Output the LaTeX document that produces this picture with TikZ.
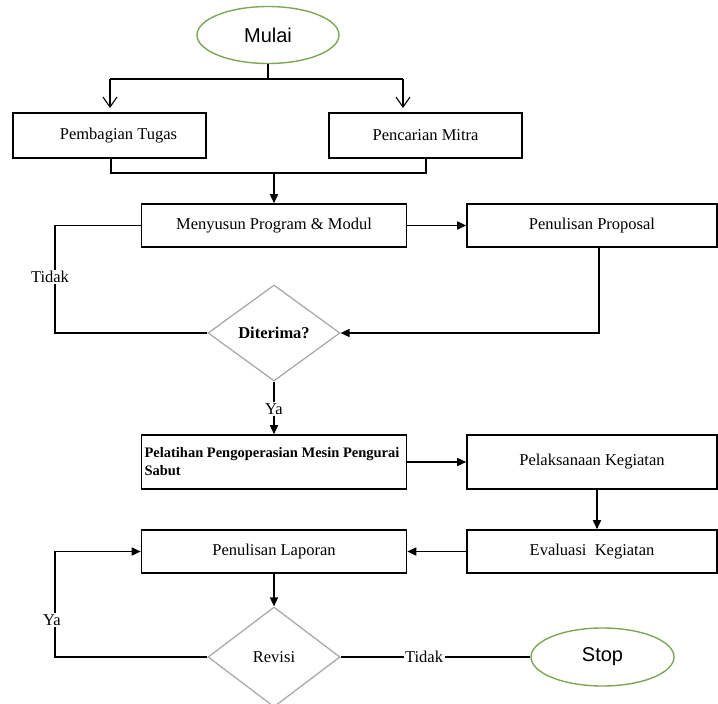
\documentclass[tikz,border=0pt]{standalone}
\usepackage{fontspec}
\setmainfont{Liberation Serif}
\newfontfamily\arialfont{Liberation Sans}
\usetikzlibrary{shapes.geometric,arrows.meta,calc}
\definecolor{termgreen}{HTML}{7FA655}
\definecolor{decgray}{HTML}{A5A5A5}
\tikzset{
  procbox/.style={draw=black, line width=1.6pt, rectangle, inner sep=2pt,
    font=\fontsize{16.5}{19}\selectfont},
  terminal/.style={draw=termgreen, line width=1.4pt, ellipse, inner sep=0pt,
    font=\arialfont\fontsize{20}{24}\selectfont},
  decision/.style={draw=decgray, line width=1.2pt, diamond, inner sep=0pt,
    font=\fontsize{16.5}{19}\selectfont},
  conn/.style={line width=1.6pt, draw=black},
  arr/.style={conn, -{Triangle[length=9pt,width=8pt]}},
  openarr/.style={line width=1.1pt, -{Straight Barb[length=10pt,width=14pt,line width=1.1pt]}},
  lbl/.style={fill=white, inner sep=1.5pt, font=\fontsize{16.5}{19}\selectfont}
}
\begin{document}
\begin{tikzpicture}[x=1pt,y=-1pt]
\useasboundingbox (0,0) rectangle (718,704);

% nodes
\node[terminal, minimum width=142pt, minimum height=57pt] (mulai) at (268,35) {Mulai};
\node[procbox, minimum width=193pt, minimum height=45pt] (pt) at (109.5,135.5) {\hspace*{18pt}Pembagian Tugas};
\node[procbox, minimum width=193pt, minimum height=45pt] (pm) at (425.5,135.5) {Pencarian Mitra};
\node[procbox, minimum width=265pt, minimum height=43pt] (menyusun) at (274,225.5) {Menyusun Program \& Modul};
\node[procbox, minimum width=250pt, minimum height=43pt] (proposal) at (592,225.5) {Penulisan Proposal};
\node[decision, minimum width=132pt, minimum height=96pt] (diterima) at (274,333) {\textbf{Diterima?}};
\node[procbox, minimum width=265pt, minimum height=54pt, text width=259pt, align=flush left,
      font=\bfseries\fontsize{14.5}{18}\selectfont] (pelatihan) at (274,462)
      {Pelatihan Pengoperasian Mesin Pengurai\\Sabut};
\node[procbox, minimum width=250pt, minimum height=54pt] (pelaksanaan) at (592,462) {Pelaksanaan Kegiatan};
\node[procbox, minimum width=250pt, minimum height=43pt] (evaluasi) at (592,551.5) {Evaluasi\ \ Kegiatan};
\node[procbox, minimum width=265pt, minimum height=43pt] (laporan) at (274,551.5) {Penulisan Laporan};
\node[decision, minimum width=132pt, minimum height=100pt] (revisi) at (274,657) {Revisi};
\node[terminal, minimum width=143pt, minimum height=58pt] (stop) at (602.5,657) {Stop};

% split from Mulai
\coordinate (sp) at (268,79);
\coordinate (spL) at (110,79);
\coordinate (spR) at (403,79);
\coordinate (ptIn) at (110,108);
\coordinate (pmIn) at (403,108);
\draw[line width=1.1pt] (mulai.south) -- (sp);
\draw[line width=1.1pt] (spL) -- (spR);
\draw[openarr] (spL) -- (ptIn);
\draw[openarr] (spR) -- (pmIn);

% merge into Menyusun
\coordinate (mgL) at (111,173);
\coordinate (mgR) at (426,173);
\coordinate (mgM) at (274,173);
\draw[conn] (mgL |- pt.south) -- (mgL) -- (mgR) -- (mgR |- pm.south);
\draw[arr] (mgM) -- (menyusun.north);

% Menyusun -> Proposal
\draw[arr] (menyusun.east) -- (proposal.west);
% Proposal -> Diterima
\draw[arr] ($(proposal.south)+(7,0)$) |- (diterima.east);
% Tidak loop
\coordinate (tL) at (55,333);
\coordinate (tT) at (55,225.5);
\draw[conn] (diterima.west) -- (tL) -- (tT) -- (menyusun.west);
\node[lbl] (tidak1) at (50,277) {Tidak};
% Ya
\draw[arr] (diterima.south) -- (pelatihan.north);
\node[lbl] (ya1) at (274,409) {Ya};

% lower flow
\draw[arr] (pelatihan.east) -- (pelaksanaan.west);
\draw[arr] ($(pelaksanaan.south)+(5,0)$) -- ($(evaluasi.north)+(5,0)$);
\draw[arr] (evaluasi.west) -- (laporan.east);
\draw[arr] (laporan.south) -- (revisi.north);

% Ya loop from Revisi
\coordinate (yL) at (55,657);
\coordinate (yT) at (55,551.5);
\draw[arr] (revisi.west) -- (yL) -- (yT) -- (laporan.west);
\node[lbl] (ya2) at (52,620) {Ya};

% Tidak to Stop
\draw[conn] (revisi.east) -- node[lbl, pos=0.44] (tidak2) {Tidak} (stop.west);
\end{tikzpicture}
\end{document}
